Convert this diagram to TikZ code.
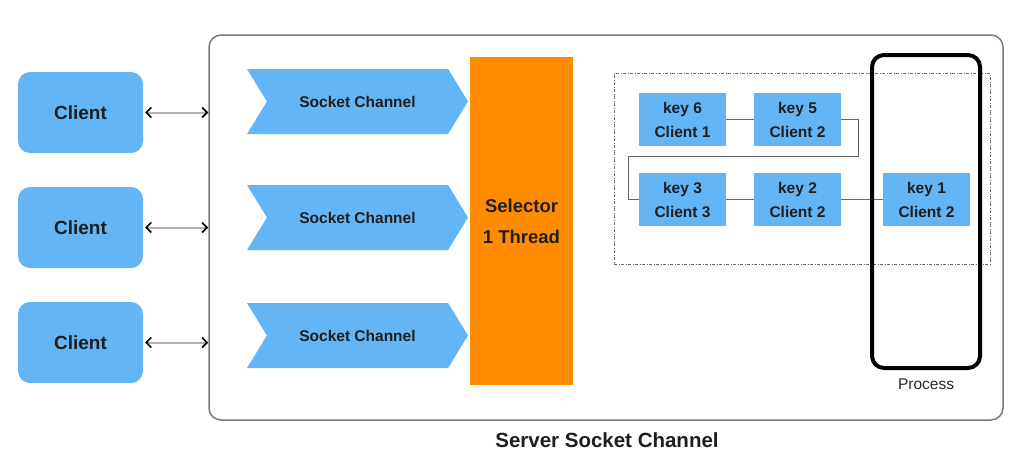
\documentclass[tikz,border=0pt]{standalone}
\usepackage{fontspec}
\setmainfont{Liberation Sans}
\usetikzlibrary{arrows.meta,shapes.symbols}
\definecolor{clientblue}{HTML}{64B5F6}
\definecolor{selorange}{HTML}{FF8C00}
\definecolor{inkdark}{HTML}{1E1E1E}
\definecolor{framegray}{HTML}{7A7A7A}

\begin{document}
\begin{tikzpicture}[x=1pt, y=-1pt,
	client/.style={rectangle, rounded corners=12pt, fill=clientblue, minimum width=125pt, minimum height=81pt, text=inkdark, font=\fontsize{19}{22}\selectfont\bfseries},
	channel/.style={signal, signal from=west, signal to=east, signal pointer angle=117, fill=clientblue, inner sep=0pt, minimum width=221pt, minimum height=65pt, text=inkdark, font=\fontsize{15.5}{18}\selectfont\bfseries},
	keybox/.style={rectangle, fill=clientblue, minimum width=87pt, minimum height=53pt, align=center, text=inkdark, font=\fontsize{15.5}{24}\selectfont\bfseries},
	link/.style={draw=black!60, line width=1.2pt},
	biarrow/.style={{Straight Barb[length=5pt,width=10pt,line width=1.6pt,color=black]}-{Straight Barb[length=5pt,width=10pt,line width=1.6pt,color=black]}, draw=black!30, line width=2pt, shorten <=2pt}
	]
	\useasboundingbox (0,0) rectangle (1035,474);
	
	\node[draw=framegray, line width=1.5pt, rounded corners=12pt, minimum width=794pt, minimum height=385pt] (srv) at (606,227.5) {};
	\node[text=inkdark, font=\fontsize{20.5}{24}\selectfont\bfseries] (srvlabel) at (607,440) {Server Socket Channel};
	
	\begin{scope}
	\node[client] (cl1) at (80.5,112.5) {Client};
	\node[client] (cl2) at (80.5,227.5) {Client};
	\node[client] (cl3) at (80.5,342.5) {Client};
	
	\draw[biarrow] (cl1.east) -- (cl1.east -| srv.west);
	\draw[biarrow] (cl2.east) -- (cl2.east -| srv.west);
	\draw[biarrow] (cl3.east) -- (cl3.east -| srv.west);
	\end{scope}
	
	\node[channel] (ch1) at (357.5,101.5) {Socket Channel};
	\node[channel] (ch2) at (357.5,217.5) {Socket Channel};
	\node[channel] (ch3) at (357.5,335.5) {Socket Channel};
	
	\node[fill=selorange, minimum width=103pt, minimum height=328pt, align=center, text=inkdark, font=\fontsize{18.5}{31}\selectfont\bfseries] (sel) at (521.5,221) {Selector\\1 Thread};
	
	% queue of keys
	\node[draw=black!60, line width=1pt, dash pattern=on 3pt off 1.5pt on 1pt off 1.5pt, minimum width=376pt, minimum height=191pt] (queue) at (802,168.5) {};
	
	\node[keybox] (k6) at (682.5,119.5) {key 6\\Client 1};
	\node[keybox] (k5) at (797.5,119.5) {key 5\\Client 2};
	\node[keybox] (k3) at (682.5,199.5) {key 3\\Client 3};
	\node[keybox] (k2) at (797.5,199.5) {key 2\\Client 2};
	\node[keybox] (k1) at (926.5,199.5) {key 1\\Client 2};
	
	\draw[link] (k6) -- (k5);
	\draw[link] (k5.east) -- ++(17,0) -- ++(0,37) coordinate (turn) -| ([xshift=-10pt]k3.west) -- (k3.west);
	\draw[link] (k3) -- (k2);
	\draw[link] (k2) -- (k1);
	
	\node[draw=black, line width=4pt, rounded corners=12pt, minimum width=108pt, minimum height=313pt] (proc) at (926,211.5) {};
	\node[text=black!85, font=\fontsize{15.5}{18}\selectfont] (proclabel) at (926,384) {Process};
\end{tikzpicture}
\end{document}
